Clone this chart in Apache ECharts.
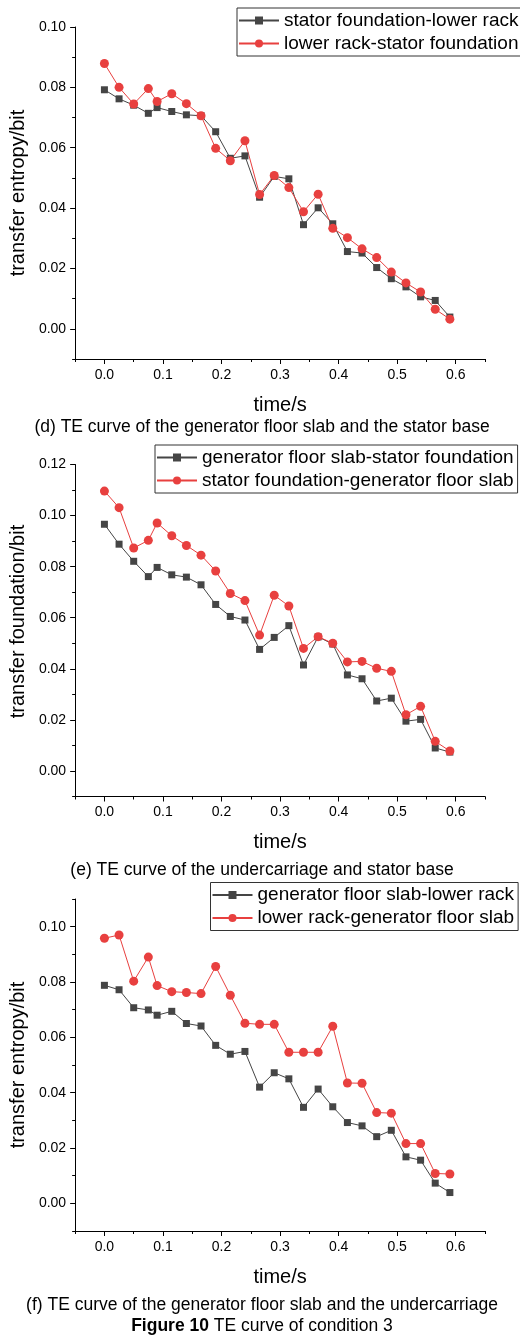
<!DOCTYPE html>
<html><head><meta charset="utf-8">
<script src="https://cdn.jsdelivr.net/npm/echarts@6/dist/echarts.min.js"></script>
<style>html,body{margin:0;padding:0;background:#fff}#c{width:520px;height:1339px}</style>
</head><body><div id="c"></div>
<script>
const times = [0,0.025,0.05,0.075,0.09,0.115,0.14,0.165,0.19,0.215,0.24,0.265,0.29,0.315,0.34,0.365,0.39,0.415,0.44,0.465,0.49,0.515,0.54,0.565,0.59];

const dNames = ['stator foundation-lower rack','lower rack-stator foundation'];
const dBlack = [0.0792,0.0762,0.0741,0.0714,0.0733,0.0720,0.0709,0.0706,0.0653,0.0565,0.0573,0.0436,0.0505,0.0497,0.0345,0.0401,0.0348,0.0256,0.0251,0.0203,0.0166,0.0139,0.0106,0.0094,0.0039];
const dRed = [0.0879,0.0800,0.0745,0.0796,0.0753,0.0779,0.0746,0.0706,0.0598,0.0557,0.0623,0.0445,0.0508,0.0468,0.0388,0.0446,0.0333,0.0302,0.0265,0.0236,0.0188,0.0152,0.0122,0.0065,0.0032];

const eNames = ['generator floor slab-stator foundation','stator foundation-generator floor slab'];
const eBlack = [0.0966,0.0888,0.0821,0.0761,0.0797,0.0768,0.0759,0.0729,0.0652,0.0605,0.0591,0.0476,0.0523,0.0569,0.0415,0.0525,0.0497,0.0376,0.0361,0.0274,0.0285,0.0195,0.0202,0.0090,0.0074];
const eRed = [0.1096,0.1031,0.0873,0.0903,0.0971,0.0921,0.0883,0.0845,0.0783,0.0695,0.0667,0.0532,0.0688,0.0646,0.0480,0.0526,0.0500,0.0427,0.0429,0.0402,0.0390,0.0220,0.0253,0.0116,0.0078];

const fNames = ['generator floor slab-lower rack','lower rack-generator floor slab'];
const fBlack = [0.0788,0.0772,0.0707,0.0699,0.0680,0.0694,0.0650,0.0641,0.0571,0.0539,0.0549,0.0420,0.0472,0.0450,0.0347,0.0413,0.0349,0.0292,0.0280,0.0241,0.0264,0.0168,0.0156,0.0073,0.0039];
const fRed = [0.0958,0.0970,0.0803,0.0890,0.0787,0.0765,0.0762,0.0758,0.0856,0.0752,0.0651,0.0647,0.0647,0.0546,0.0546,0.0546,0.0640,0.0435,0.0434,0.0328,0.0326,0.0216,0.0216,0.0108,0.0106];

const xTicks = [0,0.1,0.2,0.3,0.4,0.5,0.6];
const xMinorTicks = [-0.05,0.05,0.15,0.25,0.35,0.45,0.55,0.65];
const yTicksD = [0,0.02,0.04,0.06,0.08,0.10];
const yMinorD = [-0.01,0.01,0.03,0.05,0.07,0.09];
const yTicksE = [0,0.02,0.04,0.06,0.08,0.10,0.12];
const yMinorE = [-0.01,0.01,0.03,0.05,0.07,0.09,0.11];
const yTicksF = [0,0.02,0.04,0.06,0.08,0.10];
const yMinorF = [-0.01,0.01,0.03,0.05,0.07,0.09,0.11];

const yTitles = ['transfer entropy/bit','transfer foundation/bit','transfer entropy/bit'];
const xTitle = 'time/s';
const captions = ['(d) TE curve of the generator floor slab and the stator base','(e) TE curve of the undercarriage and stator base','(f) TE curve of the generator floor slab and the undercarriage'];
const figTitleBold = 'Figure 10';
const figTitleRest = ' TE curve of condition 3';

const FONT = '"Liberation Sans", Arial, Helvetica, sans-serif';
const BLACK = '#454545';
const RED = '#e8403f';

const panels = [
  {grid:{left:72, top:27, width:413, height:332}, yMin:-0.01, yMax:0.10, yT:yTicksD, yM:yMinorD, names:dNames, black:dBlack, red:dRed,
   legend:{left:237, top:8}, yGap:40, yPad:[0,0,0,0], cap:captions[0], capY:427},
  {grid:{left:72, top:464.5, width:413, height:332}, yMin:-0.01, yMax:0.12, yT:yTicksE, yM:yMinorE, names:eNames, black:eBlack, red:eRed,
   legend:{left:155, top:445}, yGap:40, yPad:[0,0,0,18], cap:captions[1], capY:870},
  {grid:{left:75, top:899, width:410, height:332}, yMin:-0.01, yMax:0.11, yT:yTicksF, yM:yMinorF, names:fNames, black:fBlack, red:fRed,
   legend:{left:210.5, top:882.5}, yGap:41, yPad:[0,0,0,0], cap:captions[2], capY:1305}
];

const grid=[], xAxis=[], yAxis=[], series=[], legend=[], graphic=[];
panels.forEach((p,i)=>{
  grid.push(Object.assign({containLabel:false}, p.grid));
  const axLine = {show:true, onZero:false, lineStyle:{color:'#000', width:1}};
  xAxis.push({type:'value', gridIndex:i, min:-0.05, max:0.65, position:'bottom',
    axisLine:axLine, splitLine:{show:false},
    axisTick:{show:true, length:5, inside:false, customValues:xTicks, lineStyle:{color:'#000'}},
    axisLabel:{show:true, customValues:xTicks, margin:9, color:'#000', fontSize:14, fontFamily:FONT, formatter:v=>v.toFixed(1)},
    name:xTitle, nameLocation:'middle', nameGap:36, nameTextStyle:{fontSize:20, color:'#000', fontFamily:FONT}});
  xAxis.push({type:'value', gridIndex:i, min:-0.05, max:0.65, position:'bottom',
    axisLine:{show:false, onZero:false}, splitLine:{show:false}, axisLabel:{show:false},
    axisTick:{show:true, length:3, customValues:xMinorTicks, lineStyle:{color:'#000'}}});
  yAxis.push({type:'value', gridIndex:i, min:p.yMin, max:p.yMax, position:'left',
    axisLine:axLine, splitLine:{show:false},
    axisTick:{show:true, length:5, customValues:p.yT, lineStyle:{color:'#000'}},
    axisLabel:{show:true, customValues:p.yT, margin:9, color:'#000', fontSize:14, fontFamily:FONT, formatter:v=>v.toFixed(2)},
    name:yTitles[i], nameLocation:'middle', nameRotate:90, nameGap:p.yGap, nameTextStyle:{fontSize:20, color:'#000', fontFamily:FONT, padding:p.yPad}});
  yAxis.push({type:'value', gridIndex:i, min:p.yMin, max:p.yMax, position:'left',
    axisLine:{show:false, onZero:false}, splitLine:{show:false}, axisLabel:{show:false},
    axisTick:{show:true, length:3, customValues:p.yM, lineStyle:{color:'#000'}}});
  series.push({type:'line', name:p.names[0], xAxisIndex:2*i, yAxisIndex:2*i,
    data:times.map((t,k)=>[t,p.black[k]]), symbol:'rect', symbolSize:7,
    itemStyle:{color:BLACK}, lineStyle:{color:BLACK, width:1}, animation:false});
  series.push({type:'line', name:p.names[1], xAxisIndex:2*i, yAxisIndex:2*i,
    data:times.map((t,k)=>[t,p.red[k]]), symbol:'circle', symbolSize:9,
    itemStyle:{color:RED}, lineStyle:{color:RED, width:1}, animation:false});
  legend.push({data:p.names, orient:'vertical', left:p.legend.left, top:p.legend.top,
    itemWidth:40, itemHeight:10, itemGap:4, padding:[3,4,3,1],
    borderColor:'#333', borderWidth:1, backgroundColor:'#fff',
    selectedMode:false, inactiveColor:'#ccc',
    textStyle:{fontSize:19, lineHeight:19, color:'#000', fontFamily:FONT, padding:[0,0,0,0]}});
  graphic.push({type:'text', x:262, y:p.capY, style:{text:p.cap, fontSize:17.5, fontFamily:FONT, fill:'#000', align:'center', verticalAlign:'middle'}});
});
graphic.push({type:'text', x:262, y:1326.5, style:{text:'{b|'+figTitleBold+'}{r|'+figTitleRest+'}', fontSize:17.5, fontFamily:FONT, fill:'#000', align:'center', verticalAlign:'middle',
  rich:{b:{fontWeight:'bold', fontSize:17.5, fontFamily:FONT, fill:'#000'}, r:{fontSize:17.5, fontFamily:FONT, fill:'#000'}}}});

const chart = echarts.init(document.getElementById('c'), null, {renderer:'canvas'});
chart.setOption({animation:false, backgroundColor:'#fff', grid, xAxis, yAxis, series, legend, graphic});
</script></body></html>
